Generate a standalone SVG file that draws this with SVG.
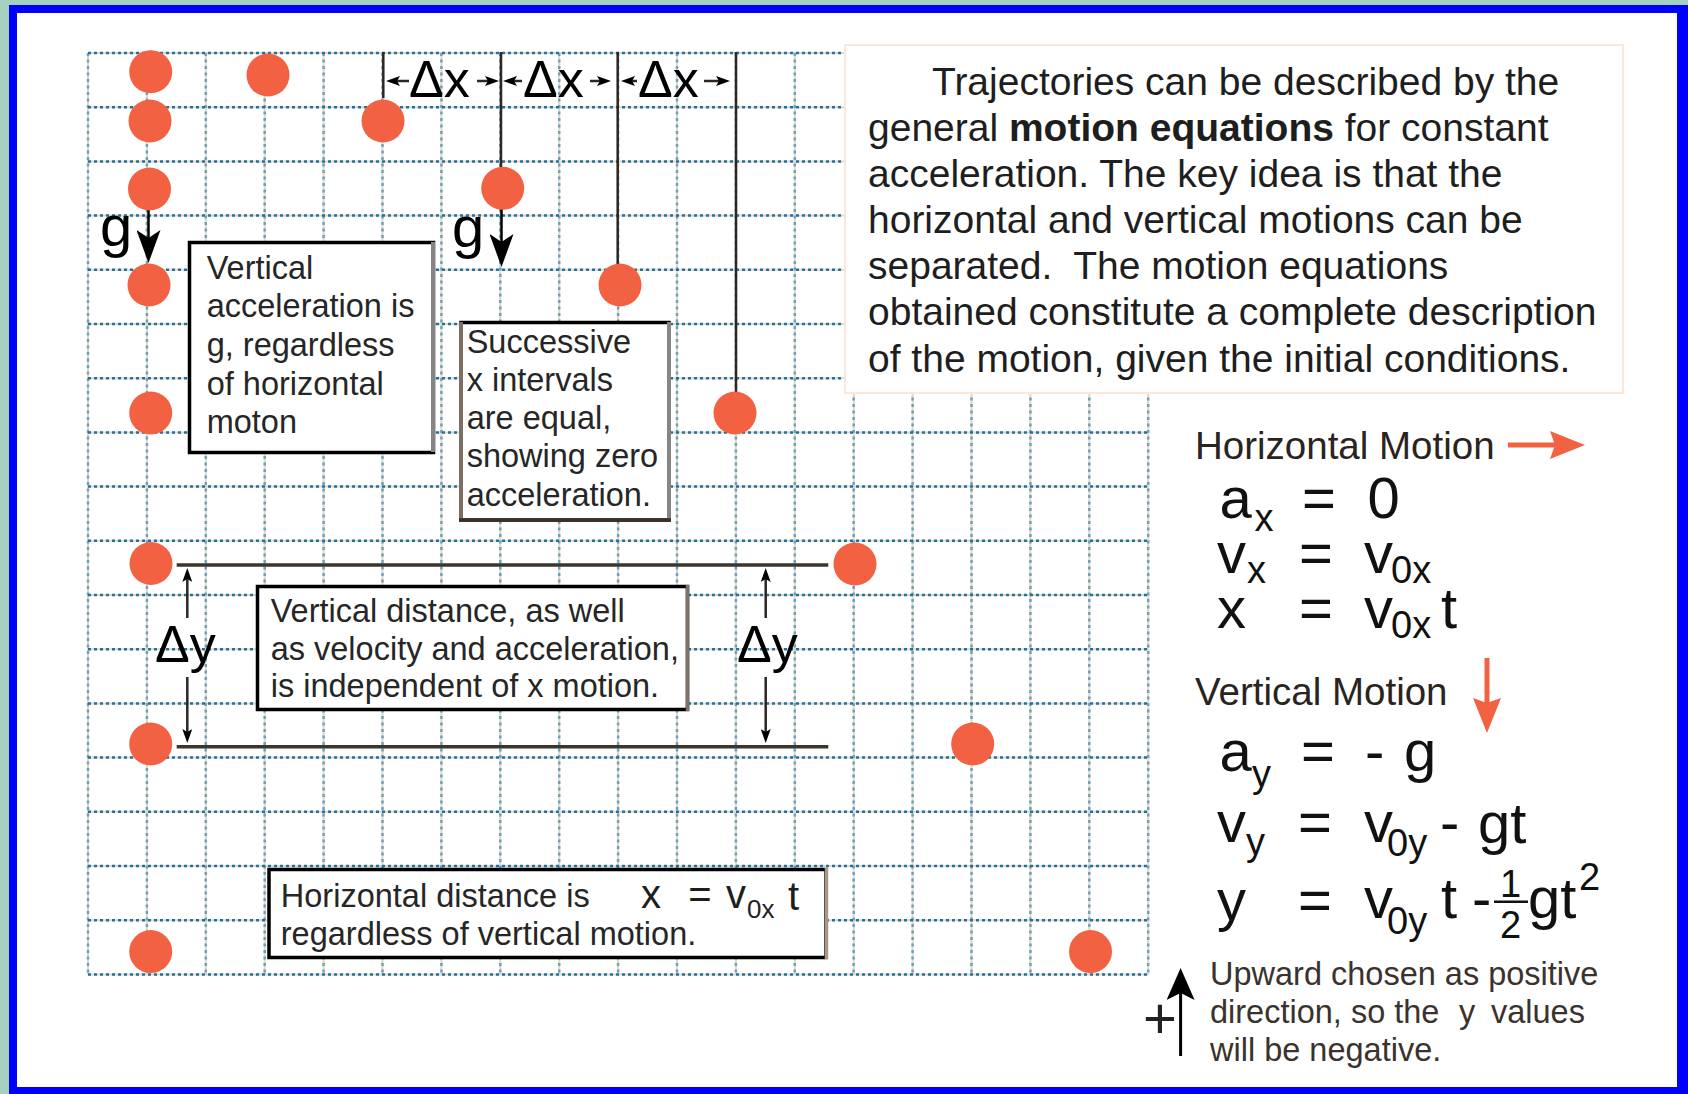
<svg xmlns="http://www.w3.org/2000/svg" width="1688" height="1094" viewBox="0 0 1688 1094">
<style>
text{font-family:"Liberation Sans",Arial,sans-serif;fill:#1e1e1e}
.para{font-size:39px}
.bx{font-size:32.5px;fill:#262626}
.dl{font-size:52px;fill:#000}
.gl{font-size:58px;fill:#000}
.hd{font-size:38.5px;fill:#2a2420}
.eq{font-size:58px;fill:#111}
.sb{font-size:38px;fill:#111}
.sb2{font-size:26px;fill:#222}
.nt{font-size:32.5px;fill:#3a332d}
.gridh{fill:none;stroke:#1f73a3;stroke-width:2.5;stroke-dasharray:3 3}
.gridv{fill:none;stroke:#6aa2c0;stroke-width:2.5;stroke-dasharray:3 3.5}
.gridu{fill:none;stroke:#e3d6c3;stroke-width:2}
.dot{fill:#f16142}
.dim{stroke:#2e2620;stroke-width:2.5;fill:none}
.bxr{fill:#fff;stroke:#000;stroke-width:3.5}
.red{stroke:#f16142;stroke-width:5;fill:none}
</style>
<defs>
<marker id="aS" viewBox="0 0 14 10" refX="4" refY="5" markerWidth="14" markerHeight="10" markerUnits="userSpaceOnUse" orient="auto"><path d="M0,0 L14,5 L0,10 L3,5 Z" fill="#000"/></marker>
<marker id="aG" viewBox="0 0 33 24" refX="9" refY="12" markerWidth="33" markerHeight="24" markerUnits="userSpaceOnUse" orient="auto"><path d="M0,0 L33,12 L0,24 L8,12 Z" fill="#000"/></marker>
<marker id="aR" viewBox="0 0 35 28" refX="6" refY="14" markerWidth="35" markerHeight="28" markerUnits="userSpaceOnUse" orient="auto"><path d="M0,0 L35,14 L0,28 L5,14 Z" fill="#f16142"/></marker>
<marker id="aP" viewBox="0 0 32 28" refX="8" refY="14" markerWidth="32" markerHeight="28" markerUnits="userSpaceOnUse" orient="auto"><path d="M0,0 L32,14 L0,28 L7,14 Z" fill="#000"/></marker>
</defs>

<g id="frame">
<rect width="1688" height="1094" fill="#a3d2c0"/>
<rect x="9" y="5" width="1679" height="1089" fill="#0000ff"/>
<rect x="17" y="13" width="1660" height="1074" fill="#ffffff"/>
</g>

<g id="grid">
<path class="gridu" d="M88 53H1148M88 107.2H1148M88 161.4H1148M88 215.6H1148M88 269.8H1148M88 324H1148M88 378.2H1148M88 432.4H1148M88 486.6H1148M88 540.8H1148M88 595H1148M88 649.2H1148M88 703.4H1148M88 757.6H1148M88 811.8H1148M88 866H1148M88 920.2H1148M88 974.4H1148M88 53V974.4M146.9 53V974.4M205.8 53V974.4M264.7 53V974.4M323.6 53V974.4M382.5 53V974.4M441.4 53V974.4M500.3 53V974.4M559.2 53V974.4M618.1 53V974.4M677 53V974.4M735.9 53V974.4M794.8 53V974.4M853.7 53V974.4M912.6 53V974.4M971.5 53V974.4M1030.4 53V974.4M1089.3 53V974.4M1148.2 53V974.4"/>
<path class="gridv" d="M88 53V974.4M146.9 53V974.4M205.8 53V974.4M264.7 53V974.4M323.6 53V974.4M382.5 53V974.4M441.4 53V974.4M500.3 53V974.4M559.2 53V974.4M618.1 53V974.4M677 53V974.4M735.9 53V974.4M794.8 53V974.4M853.7 53V974.4M912.6 53V974.4M971.5 53V974.4M1030.4 53V974.4M1089.3 53V974.4M1148.2 53V974.4"/>
<path class="gridh" d="M88 53H1148M88 107.2H1148M88 161.4H1148M88 215.6H1148M88 269.8H1148M88 324H1148M88 378.2H1148M88 432.4H1148M88 486.6H1148M88 540.8H1148M88 595H1148M88 649.2H1148M88 703.4H1148M88 757.6H1148M88 811.8H1148M88 866H1148M88 920.2H1148M88 974.4H1148"/>
</g>

<g id="intro-text">
<rect x="845" y="45" width="778" height="348" fill="#fff" stroke="#fbe7d8" stroke-width="2"/>
<text class="para" x="932" y="95">Trajectories can be described by the</text>
<text class="para" x="868" y="141">general <tspan font-weight="bold">motion equations</tspan> for constant</text>
<text class="para" x="868" y="187">acceleration. The key idea is that the</text>
<text class="para" x="868" y="233">horizontal and vertical motions can be</text>
<text class="para" x="868" y="279" xml:space="preserve">separated.  The motion equations</text>
<text class="para" x="868" y="325">obtained constitute a complete description</text>
<text class="para" x="868" y="372">of the motion, given the initial conditions.</text>
</g>

<g id="connectors">
<line class="dim" x1="383.3" y1="52" x2="383.3" y2="98"/>
<line class="dim" x1="501" y1="52" x2="501" y2="167"/>
<line class="dim" x1="617.7" y1="52" x2="617.7" y2="264"/>
<line class="dim" x1="736" y1="52" x2="736" y2="392"/>
<line class="dim" x1="409" y1="81" x2="396" y2="81" marker-end="url(#aS)"/>
<line class="dim" x1="477" y1="81" x2="489" y2="81" marker-end="url(#aS)"/>
<line class="dim" x1="522" y1="81" x2="513" y2="81" marker-end="url(#aS)"/>
<line class="dim" x1="590" y1="81" x2="601" y2="81" marker-end="url(#aS)"/>
<line class="dim" x1="637" y1="81" x2="631" y2="81" marker-end="url(#aS)"/>
<line class="dim" x1="704" y1="81" x2="720" y2="81" marker-end="url(#aS)"/>
<line x1="148.5" y1="210" x2="148.5" y2="239" stroke="#000" stroke-width="2.5" marker-end="url(#aG)"/>
<line x1="501.5" y1="209" x2="501.5" y2="243" stroke="#000" stroke-width="2.5" marker-end="url(#aG)"/>
<line x1="176.7" y1="565" x2="828.3" y2="565" stroke="#3d342c" stroke-width="3.5"/>
<line x1="176.7" y1="746.7" x2="828.3" y2="746.7" stroke="#3d342c" stroke-width="3.5"/>
<line class="dim" x1="187.3" y1="618" x2="187.3" y2="578" marker-end="url(#aS)"/>
<line class="dim" x1="187.3" y1="677" x2="187.3" y2="733" marker-end="url(#aS)"/>
<line class="dim" x1="765.7" y1="618" x2="765.7" y2="578" marker-end="url(#aS)"/>
<line class="dim" x1="765.7" y1="677" x2="765.7" y2="733" marker-end="url(#aS)"/>
<line class="red" x1="1508" y1="445" x2="1556" y2="445" marker-end="url(#aR)"/>
<line class="red" x1="1487" y1="658" x2="1487" y2="704" marker-end="url(#aR)"/>
<line x1="1180.6" y1="1056" x2="1180.6" y2="992" stroke="#000" stroke-width="3" marker-end="url(#aP)"/>
</g>

<g id="labels">
<text class="dl" x="409" y="97">Δx</text>
<text class="dl" x="523" y="97">Δx</text>
<text class="dl" x="638" y="97">Δx</text>
<text class="gl" x="100" y="246">g</text>
<text class="gl" x="452" y="247">g</text>
<text class="dl" x="155" y="662">Δy</text>
<text class="dl" x="737" y="662">Δy</text>
</g>

<g id="dots">
<circle class="dot" cx="150.7" cy="71.7" r="21.5"/>
<circle class="dot" cx="150" cy="121" r="21.5"/>
<circle class="dot" cx="149.5" cy="189" r="21.5"/>
<circle class="dot" cx="149" cy="285" r="21.5"/>
<circle class="dot" cx="150.7" cy="413" r="21.5"/>
<circle class="dot" cx="151" cy="563.5" r="21.5"/>
<circle class="dot" cx="150.7" cy="744" r="21.5"/>
<circle class="dot" cx="150.7" cy="951.6" r="21.5"/>
<circle class="dot" cx="268" cy="75" r="21.5"/>
<circle class="dot" cx="383" cy="121" r="21.5"/>
<circle class="dot" cx="502.7" cy="188.3" r="21.5"/>
<circle class="dot" cx="620" cy="285" r="21.5"/>
<circle class="dot" cx="735" cy="413" r="21.5"/>
<circle class="dot" cx="855" cy="564" r="21.5"/>
<circle class="dot" cx="972.7" cy="744" r="21.5"/>
<circle class="dot" cx="1090.5" cy="951.6" r="21.5"/>
</g>

<g id="box-vertical-acceleration">
<rect class="bxr" x="189.5" y="242.5" width="244" height="210"/>
<line x1="433" y1="242" x2="433" y2="452" stroke="#858585" stroke-width="4"/>
<text class="bx" x="206.7" y="279">Vertical</text>
<text class="bx" x="206.7" y="317">acceleration is</text>
<text class="bx" x="206.7" y="356">g, regardless</text>
<text class="bx" x="206.7" y="395">of horizontal</text>
<text class="bx" x="206.7" y="433">moton</text>
</g>

<g id="box-successive">
<rect class="bxr" x="461" y="322.5" width="208" height="197.5"/>
<line x1="461" y1="322" x2="461" y2="521" stroke="#7b6e63" stroke-width="4"/>
<line x1="669" y1="322" x2="669" y2="521" stroke="#858585" stroke-width="4"/>
<line x1="459" y1="520" x2="671" y2="520" stroke="#3a302a" stroke-width="3.5"/>
<text class="bx" x="466.7" y="352.5">Successive</text>
<text class="bx" x="466.7" y="391">x intervals</text>
<text class="bx" x="466.7" y="429">are equal,</text>
<text class="bx" x="466.7" y="467">showing zero</text>
<text class="bx" x="466.7" y="506">acceleration.</text>
</g>

<g id="box-vertical-distance">
<rect class="bxr" x="257.5" y="586.5" width="430" height="123"/>
<line x1="687.5" y1="585" x2="687.5" y2="711" stroke="#7d7268" stroke-width="3.5"/>
<text class="bx" x="270.7" y="622">Vertical distance, as well</text>
<text class="bx" x="270.7" y="659.5">as velocity and acceleration,</text>
<text class="bx" x="270.7" y="697">is independent of x motion.</text>
</g>

<g id="box-horizontal-distance">
<rect class="bxr" x="269" y="869.5" width="557" height="88"/>
<line x1="826.5" y1="868" x2="826.5" y2="959" stroke="#a89886" stroke-width="3.5"/>
<text class="bx" x="280.8" y="907">Horizontal distance is</text>
<text class="bx" x="280.8" y="945">regardless of vertical motion.</text>
<text x="641" y="908" style="font-size:40px">x</text>
<text x="700" y="908" text-anchor="middle" style="font-size:40px">=</text>
<text x="726" y="908" style="font-size:40px">v</text>
<text class="sb2" x="747" y="918">0x</text>
<text x="788" y="910" style="font-size:40px">t</text>
</g>

<g id="horizontal-motion">
<text class="hd" x="1195" y="459">Horizontal Motion</text>
<text class="eq" x="1219.5" y="518">a</text>
<text class="sb" x="1254.5" y="531">x</text>
<text class="eq" x="1319" y="518" text-anchor="middle">=</text>
<text class="eq" x="1367.5" y="518">0</text>
<text class="eq" x="1217" y="573">v</text>
<text class="sb" x="1247" y="583">x</text>
<text class="eq" x="1316" y="573" text-anchor="middle">=</text>
<text class="eq" x="1364" y="573">v</text>
<text class="sb" x="1391" y="583">0x</text>
<text class="eq" x="1217" y="628">x</text>
<text class="eq" x="1316" y="628" text-anchor="middle">=</text>
<text class="eq" x="1364" y="628">v</text>
<text class="sb" x="1391" y="638">0x</text>
<text class="eq" x="1441" y="628">t</text>
</g>

<g id="vertical-motion">
<text class="hd" x="1195" y="705">Vertical Motion</text>
<text class="eq" x="1219.5" y="771">a</text>
<text class="sb" x="1252" y="787">y</text>
<text class="eq" x="1318" y="771" text-anchor="middle">=</text>
<text class="eq" x="1365" y="771">-</text>
<text class="eq" x="1404" y="771">g</text>
<text class="eq" x="1217" y="842">v</text>
<text class="sb" x="1246" y="855">y</text>
<text class="eq" x="1315" y="842" text-anchor="middle">=</text>
<text class="eq" x="1364" y="842">v</text>
<text class="sb" x="1387" y="856">0y</text>
<text class="eq" x="1440" y="842">-</text>
<text class="eq" x="1478" y="843">gt</text>
<text class="eq" x="1217" y="920">y</text>
<text class="eq" x="1315" y="920" text-anchor="middle">=</text>
<text class="eq" x="1364" y="918">v</text>
<text class="sb" x="1387" y="934">0y</text>
<text class="eq" x="1441" y="918">t</text>
<text class="eq" x="1472" y="918">-</text>
<line x1="1494" y1="901.7" x2="1528" y2="901.7" stroke="#111" stroke-width="2.5"/>
<text class="sb" x="1500" y="897">1</text>
<text class="sb" x="1500" y="938">2</text>
<text class="eq" x="1528" y="918">gt</text>
<text class="sb" x="1579" y="890">2</text>
</g>

<g id="sign-note">
<text x="1143" y="1038" style="font-size:58px;fill:#222">+</text>
<text class="nt" x="1210" y="985">Upward chosen as positive</text>
<text class="nt" x="1210" y="1023">direction, so the<tspan x="1459">y</tspan><tspan x="1491">values</tspan></text>
<text class="nt" x="1210" y="1061">will be negative.</text>
</g>
</svg>
